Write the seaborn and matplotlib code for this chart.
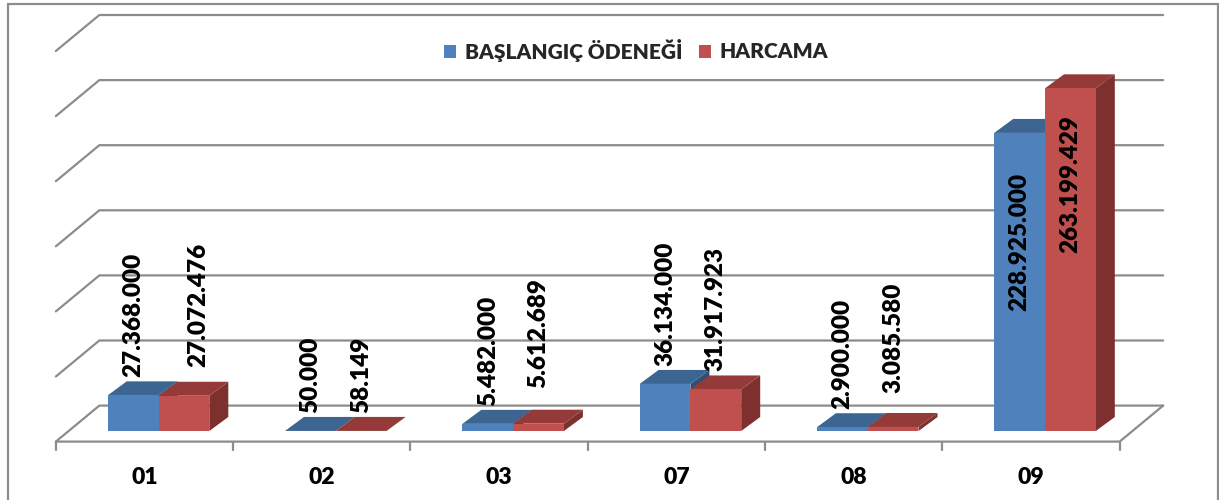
import numpy as np
import pandas as pd
import seaborn as sns
import matplotlib.pyplot as plt
from matplotlib.patches import Polygon, Rectangle, Patch
from matplotlib.lines import Line2D
from matplotlib.transforms import IdentityTransform

# Data
categories = ['01', '02', '03', '07', '08', '09']
series_names = ['BAŞLANGIÇ ÖDENEĞİ', 'HARCAMA']
baslangic = [27368000, 50000, 5482000, 36134000, 2900000, 228925000]
harcama = [27072476, 58149, 5612689, 31917923, 3085580, 263199429]
y_ticks = [0, 50e6, 100e6, 150e6, 200e6, 250e6, 300e6]

df = pd.DataFrame({
    'kod': categories * 2,
    'seri': [series_names[0]] * len(categories) + [series_names[1]] * len(categories),
    'tutar': baslangic + harcama,
})

# Colours (front, top, side)
front_cols = ['#4F81BD', '#C0504D']
top_cols = ['#3D6592', '#943B39']
side_cols = ['#2F4F75', '#7D302E']
grid_col = '#8C8C8C'

sns.set_style('white')
plt.rcParams['font.family'] = ['Lato', 'DejaVu Sans']

W, H = 1219, 500
fig = plt.figure(figsize=(W / 100, H / 100), dpi=100)
ax = fig.add_axes([69.85 / W, 69 / H, 1063.8 / W, 390.6 / H])

sns.barplot(data=df, x='kod', y='tutar', hue='seri', hue_order=series_names,
            palette=dict(zip(series_names, front_cols)), width=0.573,
            saturation=1, errorbar=None, legend=False, ax=ax,
            edgecolor='none', linewidth=0)
ax.set_xlim(-0.5, len(categories) - 0.5)
ax.set_ylim(0, y_ticks[-1])
ax.set_axis_off()

# pseudo 3D offsets in pixels (relative to the bar front plane)
FRONT = np.array([-14.0, -10.6])
BACK = np.array([29.5, 25.4])
DEPTH = np.array([19.0, 14.0])
ident = IdentityTransform()


def disp(x, y):
    return ax.transData.transform((x, y))


x_lo, x_hi = -0.5, len(categories) - 0.5

# back wall + left wall gridlines
for v in y_ticks:
    p0 = disp(x_lo, v) + FRONT
    p1 = disp(x_lo, v) + BACK
    p2 = disp(x_hi, v) + BACK
    ax.add_artist(Line2D([p0[0], p1[0], p2[0]], [p0[1], p1[1], p2[1]], color=grid_col,
                         lw=1.6, transform=ident, clip_on=False, zorder=0.5))

# floor front edge, right edge and ticks
f0 = disp(x_lo, 0) + FRONT
f1 = disp(x_hi, 0) + FRONT
b1 = disp(x_hi, 0) + BACK
ax.add_artist(Line2D([f0[0], f1[0], b1[0]], [f0[1], f1[1], b1[1]], color=grid_col,
                     lw=1.6, transform=ident, clip_on=False, zorder=0.5))
for k in range(len(categories) + 1):
    t = disp(x_lo + k, 0) + FRONT
    ax.add_artist(Line2D([t[0], t[0]], [t[1], t[1] - 8], color=grid_col, lw=1.6,
                         transform=ident, clip_on=False, zorder=0.5))

for k, cat in enumerate(categories):
    t = disp(k, 0) + FRONT
    ax.text(t[0], t[1] - 36, cat, transform=ident, ha='center', va='center',
            fontsize=16.5, fontweight='heavy', color='black')

# 3D faces of the bars
label_nudge = {(1, '01'): (14, 11), (1, '03'): (0, 18), (1, '08'): (0, 16), (0, '09'): (0, -13)}
values = [baslangic, harcama]
for i, cont in enumerate(ax.containers):
    for j, bar in enumerate(cont):
        x0 = bar.get_x()
        x1 = x0 + bar.get_width()
        h = bar.get_height()
        br = disp(x1, 0)
        tl = disp(x0, h)
        tr = disp(x1, h)
        base = 2 + 3 * i
        side = Polygon([br, tr, tr + DEPTH, br + DEPTH], closed=True, fc=side_cols[i],
                       ec='none', transform=ident, clip_on=False, zorder=base)
        top = Polygon([tl, tr, tr + DEPTH, tl + DEPTH], closed=True, fc=top_cols[i],
                      ec='none', transform=ident, clip_on=False, zorder=base + 1)
        ax.add_artist(side)
        ax.add_artist(top)
        bar.set_zorder(base + 2)

        # data label
        s = f'{values[i][j]:,}'.replace(',', '.')
        cx = (tl[0] + tr[0]) / 2
        if values[i][j] > 100e6:
            px, py, va = cx, tl[1] - 27, 'top'
        else:
            px, py, va = cx, tl[1] + DEPTH[1] + 4, 'bottom'
        dx, dy = label_nudge.get((i, categories[j]), (0, 0))
        ax.text(px + dx, py + dy, s, transform=ident, rotation=90, ha='center', va=va,
                fontsize=17.5, fontweight='heavy', color='black', zorder=20)

# legend
handles = [Patch(facecolor=c, edgecolor='none') for c in front_cols]
fig.legend(handles, series_names, loc='center', bbox_to_anchor=(636 / W, 1 - 50 / H),
           ncol=2, frameon=False, handlelength=0.6, handleheight=0.6,
           handletextpad=0.4, columnspacing=0.8, prop=dict(weight='heavy', size=15))

# chart frame
fig.add_artist(Rectangle((8, -10), 1210, 506, transform=ident, fill=False,
                         ec=grid_col, lw=1.6))

fig.savefig('out.png', dpi=100)
